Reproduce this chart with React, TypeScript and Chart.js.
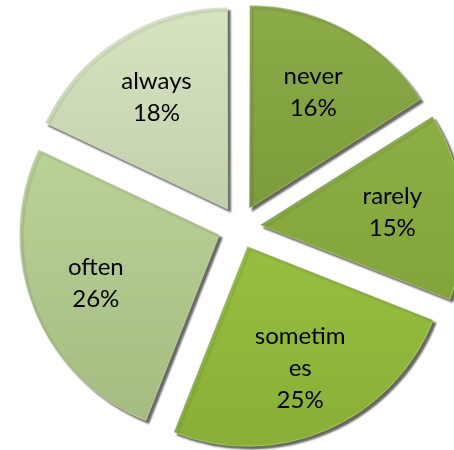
import React, { useEffect, useRef } from "react";
import { Chart, registerables } from "chart.js";

Chart.register(...registerables);

const categories = ["never", "rarely", "sometimes", "often", "always"];
const labelLines = [["never"], ["rarely"], ["sometim", "es"], ["often"], ["always"]];
const percentages = [16, 15, 25, 26, 18];
const topColors = ["#8dae49", "#93b64a", "#a8cf4c", "#c6dda3", "#dae7c5"];
const bottomColors = ["#6a8a2c", "#7a9c32", "#86ae34", "#a2b97e", "#a9b88e"];

export default function App() {
  const ref = useRef<HTMLCanvasElement | null>(null);

  useEffect(() => {
    const canvas = ref.current;
    if (!canvas) return;

    const shadowPlugin = {
      id: "shadowPlugin",
      beforeDatasetsDraw(chart: any) {
        const c = chart.ctx;
        c.save();
        c.shadowColor = "rgba(0,0,0,0.6)";
        c.shadowOffsetX = 3;
        c.shadowOffsetY = 3;
        c.shadowBlur = 2;
      },
      afterDatasetsDraw(chart: any) {
        chart.ctx.restore();
      },
    };

    const labelPlugin = {
      id: "labelPlugin",
      afterDraw(chart: any) {
        const c = chart.ctx;
        const meta = chart.getDatasetMeta(0);
        c.save();
        c.fillStyle = "#000";
        c.font = "24px Lato, 'Open Sans', sans-serif";
        c.textAlign = "center";
        c.textBaseline = "middle";
        meta.data.forEach((arc: any, i: number) => {
          const p = arc.getProps(["x", "y", "startAngle", "endAngle", "outerRadius"], true);
          const mid = (p.startAngle + p.endAngle) / 2;
          const dist = p.outerRadius * 0.77;
          const cx = p.x + Math.cos(mid) * dist;
          const cy = p.y + Math.sin(mid) * dist;
          const lines = [...labelLines[i], percentages[i] + "%"];
          const lh = 32;
          const start = cy - ((lines.length - 1) * lh) / 2;
          lines.forEach((t, k) => c.fillText(t, cx, start + k * lh));
        });
        c.restore();
      },
    };

    const chart = new Chart(canvas, {
      type: "pie",
      data: {
        labels: categories,
        datasets: [
          {
            data: percentages,
            radius: 200,
            offset: 84,
            borderWidth: 1,
            borderColor: "rgba(255,255,255,0.35)",
            backgroundColor: (ctx: any) => {
              const i = ctx.dataIndex ?? 0;
              const c = ctx.chart.ctx;
              const g = c.createLinearGradient(0, 0, 0, 450);
              g.addColorStop(0, topColors[i]);
              g.addColorStop(1, bottomColors[i]);
              return g;
            },
          } as any,
        ],
      },
      options: {
        responsive: false,
        animation: false,
        layout: { padding: { left: 24, top: 4, right: 0, bottom: 0 } },
        plugins: {
          legend: { display: false },
          tooltip: { enabled: false },
        },
      },
      plugins: [shadowPlugin, labelPlugin],
    });

    return () => chart.destroy();
  }, []);

  return (
    <div style={{ position: "absolute", left: 0, top: 0, width: 454, height: 450, background: "#fff" }}>
      <canvas ref={ref} width={454} height={450} style={{ display: "block" }} />
    </div>
  );
}
